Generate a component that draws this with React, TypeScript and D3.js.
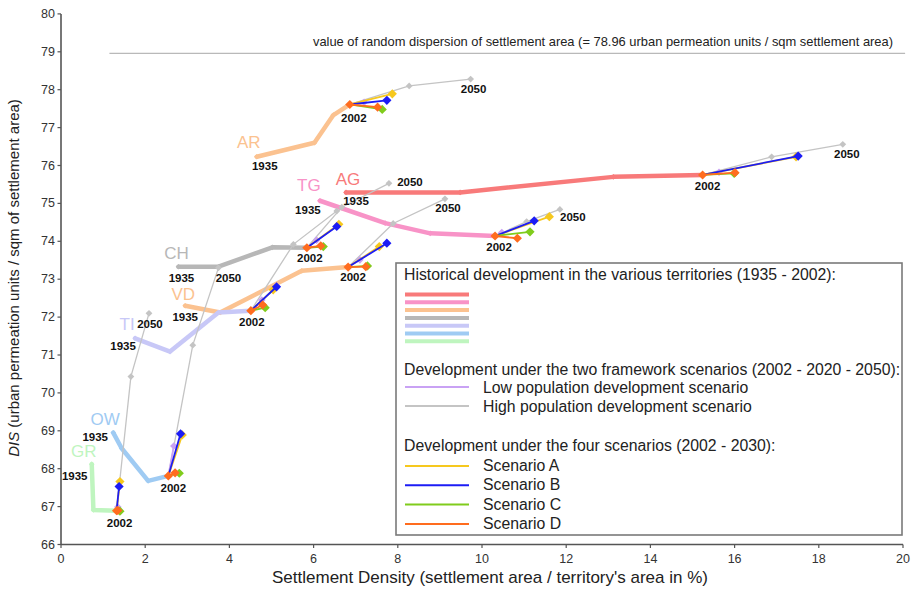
import React from "react";
import * as d3 from "d3";

type Pt = [number, number];

// ---------- axes ----------
const X_DOMAIN: [number, number] = [0, 20];
const Y_DOMAIN: [number, number] = [66, 80];
const X_TICKS = [0, 2, 4, 6, 8, 10, 12, 14, 16, 18, 20];
const Y_TICKS = [66, 67, 68, 69, 70, 71, 72, 73, 74, 75, 76, 77, 78, 79, 80];
const REF_VALUE = 78.96;
const REF_X: [number, number] = [1.15, 20.05];
const REF_LABEL =
  "value of random dispersion of settlement area (= 78.96 urban permeation units / sqm settlement area)";
const X_TITLE = "Settlement Density (settlement area / territory's area in %)";
const Y_TITLE_ITALIC = "DIS";
const Y_TITLE_REST = " (urban permeation units / sqm of settlement area)";

// ---------- territories ----------
const TERRITORIES = ["AG", "TG", "AR", "CH", "VD", "TI", "OW", "GR"];
const YEAR_LABELS = ["1935", "2002", "2050"];

// historical development 1935 - 2002
const AG_HISTORY: Pt[] = [[6.77, 75.29], [9.48, 75.29], [13.12, 75.7], [15.24, 75.75]];
const TG_HISTORY: Pt[] = [[6.15, 75.07], [7.7, 74.48], [8.77, 74.21], [10.31, 74.14]];
const AR_HISTORY: Pt[] = [[4.65, 76.23], [6.02, 76.6], [6.47, 77.33], [6.86, 77.61]];
const CH_HISTORY: Pt[] = [[2.79, 73.33], [3.74, 73.33], [5.02, 73.84], [5.84, 73.83]];
const VD_HISTORY: Pt[] = [[2.95, 72.3], [3.78, 72.12], [5.72, 73.22], [6.82, 73.32]];
const TI_HISTORY: Pt[] = [[1.76, 71.44], [2.59, 71.09], [3.74, 72.12], [4.51, 72.17]];
const OW_HISTORY: Pt[] = [[1.24, 68.95], [1.44, 68.54], [2.07, 67.68], [2.55, 67.81]];
const GR_HISTORY: Pt[] = [[0.73, 68.12], [0.77, 66.91], [1.32, 66.89]];

// framework scenarios (territory order as TERRITORIES)
const LOW_2020: Pt[] = [[15.63, 75.82], [10.47, 74.23], [7.2, 77.67], [6.07, 74.03], [7.1, 73.51], [4.77, 72.45], [2.68, 68.6], [1.35, 66.99]];
const HIGH_2020: Pt[] = [[16.88, 76.23], [11.06, 74.52], [8.27, 78.1], [6.67, 74.9], [7.89, 74.47], [5.52, 73.92], [3.13, 71.26], [1.66, 70.43]];
const HIGH_2050: Pt[] = [[18.57, 76.56], [11.85, 74.84], [9.73, 78.28], [7.79, 75.53], [9.12, 75.12], [6.55, 74.8], [3.74, 73.3], [2.09, 72.1]];

// four scenarios 2002 - 2030 (end points)
const SCENARIO_A: Pt[] = [[17.46, 76.23], [11.6, 74.65], [7.87, 77.89], [6.6, 74.45], [7.56, 73.86], [5.04, 72.72], [2.88, 68.89], [1.4, 67.66]];
const SCENARIO_B: Pt[] = [[17.51, 76.25], [11.24, 74.54], [7.74, 77.72], [6.55, 74.39], [7.74, 73.95], [5.12, 72.8], [2.84, 68.92], [1.38, 67.53]];
const SCENARIO_C: Pt[] = [[15.99, 75.79], [11.14, 74.25], [7.63, 77.48], [6.23, 73.86], [7.28, 73.35], [4.85, 72.25], [2.81, 67.88], [1.4, 66.88]];
const SCENARIO_D: Pt[] = [[16.01, 75.81], [10.84, 74.08], [7.52, 77.54], [6.17, 73.88], [7.24, 73.33], [4.79, 72.32], [2.71, 67.89], [1.35, 66.9]];

const HISTORIES = [AG_HISTORY, TG_HISTORY, AR_HISTORY, CH_HISTORY, VD_HISTORY, TI_HISTORY, OW_HISTORY, GR_HISTORY];
const SCENARIOS = [SCENARIO_A, SCENARIO_B, SCENARIO_C, SCENARIO_D];

const LEGEND_TITLES = [
  "Historical development in the various territories (1935 - 2002):",
  "Development under the two framework scenarios (2002 - 2020 - 2050):",
  "Development under the four scenarios (2002 - 2030):",
];
const FRAMEWORK_NAMES = ["Low population development scenario", "High population development scenario"];
const SCENARIO_NAMES = ["Scenario A", "Scenario B", "Scenario C", "Scenario D"];

// ---------- styles ----------
const TERR_COLORS: Record<string, string> = {
  AG: "#f87a7a",
  TG: "#f893c7",
  AR: "#fbc290",
  CH: "#b7b7b7",
  VD: "#fbc290",
  TI: "#c8c8f7",
  OW: "#9fcbf3",
  GR: "#bff5bf",
};
const LEGEND_HIST = ["AG", "TG", "AR", "CH", "TI", "OW", "GR"];
const SCEN_COLORS = ["#f6c81e", "#1c1cf5", "#80cc1c", "#ff6c1e"];
const LOW_COLOR = "#c9a2f4";
const HIGH_COLOR = "#c4c4c4";

// label offsets (px) relative to 1935 / 2002 / 2050 points
const LABEL_LAYOUT: Record<string, { name: Pt; y1935: Pt; y2002: Pt; y2050: Pt | null }> = {
  AG: { name: [2, -13], y1935: [10, 9], y2002: [5, 11], y2050: [4, 10] },
  TG: { name: [-11, -15], y1935: [-12, 9], y2002: [4, 11], y2050: [13, 8] },
  AR: { name: [-8, -14], y1935: [8, 9], y2002: [4, 14], y2050: [3, 10] },
  CH: { name: [-2, -13], y1935: [3, 11], y2002: [3, 10], y2050: [21, -1] },
  VD: { name: [-2, -11], y1935: [0, 11], y2002: [5, 10], y2050: [3, 9] },
  TI: { name: [-8, -14], y1935: [-12, 8], y2002: [1, 11], y2050: null },
  OW: { name: [-8, -13], y1935: [-18, 4], y2002: [5, 12], y2050: [10, 10] },
  GR: { name: [-8, -13], y1935: [-17, 12], y2002: [3, 12], y2050: [1, 11] },
};

const FONT = "'Liberation Sans', Arial, Helvetica, sans-serif";

const diamond = (r: number) => `M0,${-r}L${r},0L0,${r}L${-r},0Z`;

export default function App() {
  const x = d3.scaleLinear().domain(X_DOMAIN).range([61, 903]);
  const y = d3.scaleLinear().domain(Y_DOMAIN).range([544.5, 13.9]);
  const line = d3.line<Pt>().x((d) => x(d[0])).y((d) => y(d[1]));
  const tr = (p: Pt) => `translate(${x(p[0])},${y(p[1])})`;

  const last = (arr: Pt[]) => arr[arr.length - 1];

  const leg = { x: 396, y: 263, w: 506, h: 272 };
  const swX1 = 405, swX2 = 469, itemX = 483;
  const legFont = 15.8;

  return (
    <svg
      width={915}
      height={599}
      style={{ position: "absolute", left: 0, top: 0, background: "#fff" }}
      fontFamily={FONT}
    >
      <rect x={0} y={0} width={915} height={599} fill="#fff" />

      {/* reference line */}
      <line x1={x(REF_X[0])} x2={x(REF_X[1])} y1={y(REF_VALUE)} y2={y(REF_VALUE)} stroke="#b9b9b9" strokeWidth={1.3} />
      <text x={603} y={46} textAnchor="middle" fontSize={12.9} fill="#222">
        {REF_LABEL}
      </text>

      {/* historical lines */}
      {TERRITORIES.map((t, i) => (
        <g key={"h" + t}>
          <path d={line(HISTORIES[i]) || ""} fill="none" stroke={TERR_COLORS[t]} strokeWidth={4.5} strokeLinejoin="round" strokeLinecap="round" />
          {HISTORIES[i].map((p, j) => (
            <path key={j} d={diamond(2.8)} transform={tr(p)} fill={TERR_COLORS[t]} />
          ))}
        </g>
      ))}

      {/* high population scenario */}
      {TERRITORIES.map((t, i) => (
        <g key={"hi" + t}>
          <path d={line([last(HISTORIES[i]), HIGH_2020[i], HIGH_2050[i]]) || ""} fill="none" stroke={HIGH_COLOR} strokeWidth={1.3} />
          <path d={diamond(3.4)} transform={tr(HIGH_2020[i])} fill={HIGH_COLOR} />
          <path d={diamond(3.4)} transform={tr(HIGH_2050[i])} fill={HIGH_COLOR} />
        </g>
      ))}

      {/* low population scenario */}
      {TERRITORIES.map((t, i) => (
        <g key={"lo" + t}>
          <path d={line([last(HISTORIES[i]), LOW_2020[i]]) || ""} fill="none" stroke={LOW_COLOR} strokeWidth={1.8} />
          <path d={diamond(3.8)} transform={tr(LOW_2020[i])} fill={LOW_COLOR} />
        </g>
      ))}

      {/* four scenarios */}
      {SCENARIOS.map((sc, k) => (
        <g key={"sc" + k}>
          {TERRITORIES.map((t, i) => (
            <g key={t}>
              <path d={line([last(HISTORIES[i]), sc[i]]) || ""} fill="none" stroke={SCEN_COLORS[k]} strokeWidth={1.8} />
              <path d={diamond(4.6)} transform={tr(sc[i])} fill={SCEN_COLORS[k]} />
            </g>
          ))}
        </g>
      ))}

      {/* 2002 markers */}
      {TERRITORIES.map((t, i) => (
        <path key={"p" + t} d={diamond(4.6)} transform={tr(last(HISTORIES[i]))} fill={SCEN_COLORS[3]} />
      ))}

      {/* labels */}
      {TERRITORIES.map((t, i) => {
        const L = LABEL_LAYOUT[t];
        const h = HISTORIES[i];
        const p0 = h[0];
        const p1 = last(h);
        const p2 = HIGH_2050[i];
        return (
          <g key={"l" + t}>
            <text x={x(p0[0]) + L.name[0]} y={y(p0[1]) + L.name[1]} textAnchor="middle" dominantBaseline="central" fontSize={17} fill={TERR_COLORS[t]}>
              {t}
            </text>
            <text x={x(p0[0]) + L.y1935[0]} y={y(p0[1]) + L.y1935[1]} textAnchor="middle" dominantBaseline="central" fontSize={11.5} fontWeight="bold" fill="#111">
              {YEAR_LABELS[0]}
            </text>
            <text x={x(p1[0]) + L.y2002[0]} y={y(p1[1]) + L.y2002[1]} textAnchor="middle" dominantBaseline="central" fontSize={11.5} fontWeight="bold" fill="#111">
              {YEAR_LABELS[1]}
            </text>
            {L.y2050 && (
              <text x={x(p2[0]) + L.y2050[0]} y={y(p2[1]) + L.y2050[1]} textAnchor="middle" dominantBaseline="central" fontSize={11.5} fontWeight="bold" fill="#111">
                {YEAR_LABELS[2]}
              </text>
            )}
          </g>
        );
      })}

      {/* axes */}
      <line x1={61} x2={61} y1={y(80)} y2={544.5} stroke="#555" strokeWidth={1.6} />
      <line x1={61} x2={903} y1={544.5} y2={544.5} stroke="#555" strokeWidth={1.6} />
      {Y_TICKS.map((v) => (
        <g key={"yt" + v}>
          <line x1={57.5} x2={61} y1={y(v)} y2={y(v)} stroke="#555" strokeWidth={1.2} />
          <text x={55} y={y(v)} textAnchor="end" dominantBaseline="central" fontSize={12.5} fill="#333">
            {v}
          </text>
        </g>
      ))}
      {X_TICKS.map((v) => (
        <g key={"xt" + v}>
          <line x1={x(v)} x2={x(v)} y1={544.5} y2={548} stroke="#555" strokeWidth={1.2} />
          <text x={x(v)} y={558.5} textAnchor="middle" dominantBaseline="central" fontSize={12.5} fill="#333">
            {v}
          </text>
        </g>
      ))}
      <text x={490} y={583} textAnchor="middle" fontSize={17} fill="#222">
        {X_TITLE}
      </text>
      <text transform="translate(19,278) rotate(-90)" textAnchor="middle" fontSize={15} fill="#222">
        <tspan fontStyle="italic">{Y_TITLE_ITALIC}</tspan>
        <tspan>{Y_TITLE_REST}</tspan>
      </text>

      {/* legend */}
      <rect x={leg.x} y={leg.y} width={leg.w} height={leg.h} fill="#fff" stroke="#7a7a7a" strokeWidth={1.6} />
      <text x={404} y={280} fontSize={legFont} fill="#222">{LEGEND_TITLES[0]}</text>
      {LEGEND_HIST.map((t, i) => (
        <line key={"lh" + t} x1={swX1} x2={swX2} y1={294.5 + i * 7.8} y2={294.5 + i * 7.8} stroke={TERR_COLORS[t]} strokeWidth={4} />
      ))}
      <text x={404} y={375} fontSize={legFont} fill="#222">{LEGEND_TITLES[1]}</text>
      {[LOW_COLOR, HIGH_COLOR].map((c, i) => (
        <g key={"lf" + i}>
          <line x1={swX1} x2={swX2} y1={387 + i * 19} y2={387 + i * 19} stroke={c} strokeWidth={2} />
          <text x={itemX} y={393 + i * 19} fontSize={legFont} fill="#222">{FRAMEWORK_NAMES[i]}</text>
        </g>
      ))}
      <text x={404} y={451} fontSize={legFont} fill="#222">{LEGEND_TITLES[2]}</text>
      {SCENARIO_NAMES.map((n, i) => (
        <g key={"ls" + i}>
          <line x1={swX1} x2={swX2} y1={466 + i * 19.3} y2={466 + i * 19.3} stroke={SCEN_COLORS[i]} strokeWidth={2} />
          <text x={itemX} y={471 + i * 19.3} fontSize={legFont} fill="#222">{n}</text>
        </g>
      ))}
    </svg>
  );
}
